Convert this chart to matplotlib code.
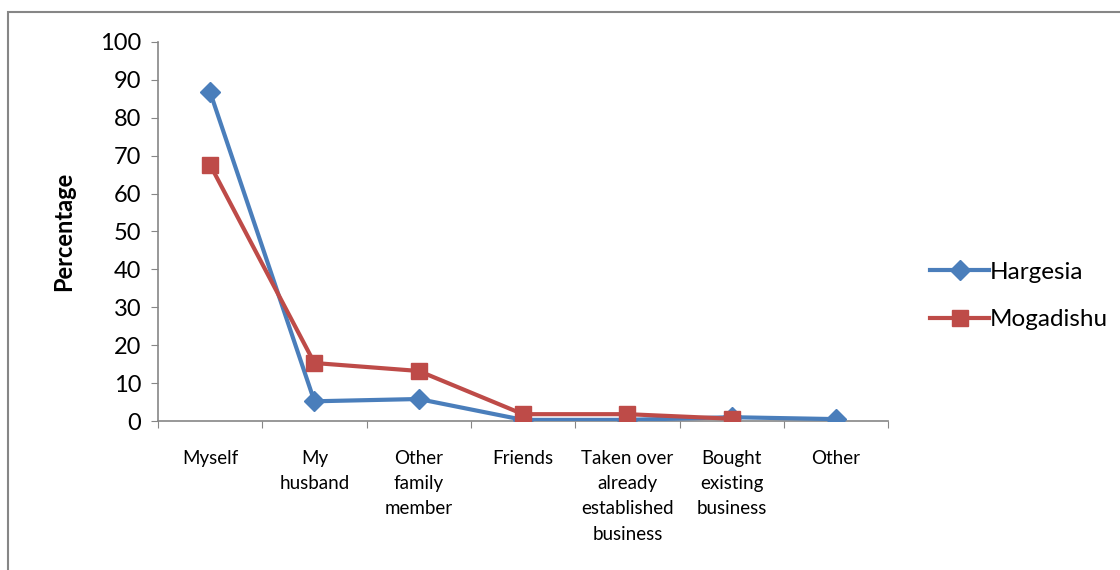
import matplotlib.pyplot as plt
from matplotlib.patches import Rectangle
import numpy as np

plt.rcParams['font.family'] = ['Lato', 'DejaVu Sans']

categories = ['Myself', 'My\nhusband', 'Other\nfamily\nmember', 'Friends',
              'Taken over\nalready\nestablished\nbusiness', 'Bought\nexisting\nbusiness', 'Other']
hargesia = [86.8, 5.2, 5.8, 0.3, 0.3, 1.0, 0.5]
mogadishu = [67.6, 15.3, 13.2, 1.8, 1.8, 0.6, np.nan]

blue = '#4A7EBB'
red = '#BE4B48'
grey = '#868686'

fig = plt.figure(figsize=(11.2, 5.7), dpi=100)
ax = fig.add_axes([0.141, 0.2614, 0.652, 0.665])

# chart area border
fig.patches.append(Rectangle((8 / 1120, -0.1), 1.2, 1 - 12 / 570 + 0.1,
                             transform=fig.transFigure, fill=False,
                             edgecolor=grey, linewidth=1.5))

x = np.arange(len(categories))
ax.plot(x, hargesia, color=blue, lw=3, marker='D', markersize=10,
        markerfacecolor=blue, markeredgecolor=blue, label='Hargesia', zorder=3)
ax.plot(x, mogadishu, color=red, lw=3, marker='s', markersize=11,
        markerfacecolor=red, markeredgecolor=red, label='Mogadishu', zorder=4)

ax.set_xlim(-0.5, len(categories) - 0.5)
ax.set_ylim(0, 100)
ax.set_yticks(np.arange(0, 101, 10))
ax.tick_params(axis='y', labelsize=17, length=5, color=grey, direction='out', pad=7)

# ticks on category boundaries, labels in between
ax.set_xticks(np.arange(-0.5, len(categories), 1))
ax.set_xticklabels([])
ax.set_xticks(x, minor=True)
ax.set_xticklabels(categories, minor=True, fontsize=13.5, linespacing=1.58, va='top')
ax.tick_params(axis='x', which='major', length=5, color=grey, direction='out')
ax.tick_params(axis='x', which='minor', length=0, pad=21)

for side in ['top', 'right']:
    ax.spines[side].set_visible(False)
for side in ['left', 'bottom']:
    ax.spines[side].set_color(grey)
    ax.spines[side].set_linewidth(1.2)

ax.set_ylabel('Percentage', fontsize=17, fontweight='bold', labelpad=18)

ax.legend(loc='center left', bbox_to_anchor=(1.028, 0.33), frameon=False,
          fontsize=17.5, handlelength=2.4, labelspacing=1.1, handletextpad=0.05)

plt.savefig('out.png', dpi=100)
